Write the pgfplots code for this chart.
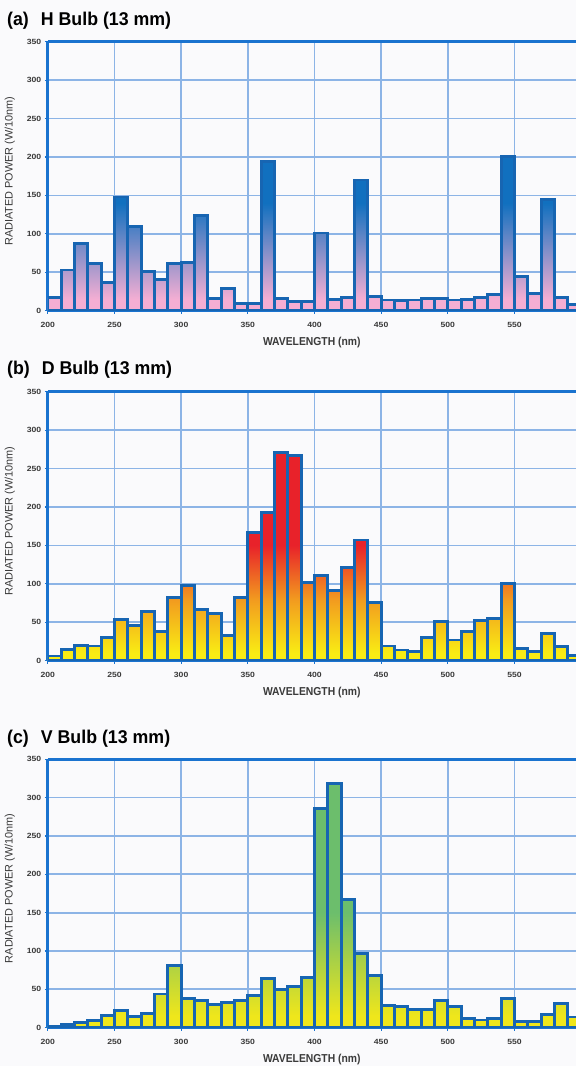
\documentclass[border=0pt]{standalone}
\usepackage{fontspec}
\setmainfont{Liberation Sans}
\newfontfamily\titlefont[FakeStretch=0.96]{Liberation Sans}
\newfontfamily\labelfont[FakeStretch=0.9]{Liberation Sans}
\newfontfamily\tickfont[FakeStretch=1.15]{Liberation Sans}
\usepackage{pgfplots}
\usepackage{pgfplotstable}
\pgfplotsset{compat=1.18}

\definecolor{bgcol}{HTML}{FAFAFC}
\definecolor{gridblue}{HTML}{8CB4E6}
\definecolor{axisblue}{HTML}{1A73CF}
\definecolor{barline}{HTML}{1765B2}
\definecolor{tickgray}{HTML}{3A3A3A}
\definecolor{hpink}{HTML}{F4AED3}
\definecolor{hblue}{HTML}{1170BF}
\definecolor{dyellow}{HTML}{F9EC14}
\definecolor{dorange}{HTML}{F29A1F}
\definecolor{dred}{HTML}{E8222A}
\definecolor{vyellow}{HTML}{EFE61B}
\definecolor{vgreen}{HTML}{6CBE6C}

% gradients follow absolute height: path box maps to 25bp..75bp
\pgfdeclareverticalshading{shadeH}{100bp}{color(0bp)=(hpink); color(28.7bp)=(hpink); color(59.8bp)=(hblue); color(100bp)=(hblue)}
\pgfdeclareverticalshading{shadeD}{100bp}{color(0bp)=(dyellow); color(26.8bp)=(dyellow); color(39.8bp)=(dorange); color(52.7bp)=(dred); color(100bp)=(dred)}
\pgfdeclareverticalshading{shadeV}{100bp}{color(0bp)=(vyellow); color(27.4bp)=(vyellow); color(48.6bp)=(vgreen); color(100bp)=(vgreen)}

% wavelength (nm), radiated power (W/10nm); last row closes the 590 bin
\pgfplotstableread{
x y
200 17
210 53
220 87
230 61
240 37
250 148
260 110
270 51
280 41
290 61
300 63
310 124
320 16
330 29
340 9
350 9
360 194
370 16
380 12
390 12
400 101
410 15
420 17
430 170
440 18
450 14
460 13
470 14
480 16
490 16
500 14
510 15
520 17
530 21
540 201
550 44
560 22
570 145
580 17
590 8
600 8
}\dataH

\pgfplotstableread{
x y
200 6
210 15
220 20
230 19
240 30
250 54
260 46
270 64
280 38
290 82
300 98
310 67
320 61
330 33
340 82
350 167
360 193
370 271
380 267
390 102
400 111
410 91
420 121
430 157
440 76
450 19
460 14
470 12
480 30
490 51
500 27
510 38
520 52
530 55
540 100
550 16
560 12
570 35
580 18
590 7
600 7
}\dataD

\pgfplotstableread{
x y
200 2
210 4
220 7
230 9
240 16
250 22
260 15
270 18
280 44
290 81
300 38
310 35
320 30
330 33
340 35
350 42
360 64
370 50
380 54
390 65
400 286
410 318
420 167
430 97
440 68
450 29
460 28
470 24
480 24
490 35
500 28
510 12
520 10
530 12
540 38
550 8
560 8
570 17
580 32
590 14
600 14
}\dataV

\pgfplotsset{
  bulb/.style={
    scale only axis, width=528pt,
    xmin=200, xmax=596, ymin=0, ymax=350,
    xtick={200,250,...,550}, ytick={0,50,...,350},
    grid=major, major grid style={gridblue, line width=1.8pt},
    axis x line*=box, axis y line*=left,
    axis line style={axisblue, line width=3pt},
    every inner x axis line/.append style={-},
    every inner y axis line/.append style={-},
    every outer x axis line/.append style={-},
    xtick pos=lower, ytick pos=left,
    tick align=outside, major tick length=3pt,
    tick style={axisblue, line width=1.2pt},
    /pgf/number format/assume math mode=true,
    ticklabel style={font=\tickfont\bfseries\fontsize{7.5}{9}\selectfont, text=tickgray},
    xticklabel style={yshift=-5pt},
    xlabel={WAVELENGTH (nm)}, ylabel={RADIATED POWER (W/10nm)},
    xlabel style={at={(axis description cs:0.5,-0.119)}, anchor=center,
      font=\labelfont\bfseries\fontsize{11.5}{13}\selectfont, text=tickgray},
    ylabel style={at={(axis description cs:-0.072,0.519)}, anchor=center,
      font=\fontsize{10.9}{13}\selectfont, text=tickgray},
  },
  bars/.style={ybar interval, draw=barline, line width=2.8pt, fill=none},
}

\newcommand{\paneltitle}[2]{{\titlefont\bfseries\fontsize{18.5}{22}\selectfont #1\hspace{12pt}#2}}

\begin{document}
\begin{tikzpicture}
\useasboundingbox (0,0) rectangle (576pt,1066pt);
\fill[bgcol] (0,0) rectangle (576pt,1066pt);

\node[anchor=base west, inner sep=0] at (7pt,1040pt) {\paneltitle{(a)}{H Bulb (13 mm)}};
\node[anchor=base west, inner sep=0] at (7pt,691pt) {\paneltitle{(b)}{D Bulb (13 mm)}};
\node[anchor=base west, inner sep=0] at (7pt,322.5pt) {\paneltitle{(c)}{V Bulb (13 mm)}};

\begin{axis}[bulb, height=269pt, at={(47.8pt,755.3pt)}, anchor=south west]
\addplot[draw=none, shade, shading=shadeH, const plot mark left] table[x=x, y=y] {\dataH} \closedcycle;
\addplot[bars] table[x=x, y=y] {\dataH};
\end{axis}

\begin{axis}[bulb, height=269pt, at={(47.8pt,405.3pt)}, anchor=south west]
\addplot[draw=none, shade, shading=shadeD, const plot mark left] table[x=x, y=y] {\dataD} \closedcycle;
\addplot[bars] table[x=x, y=y] {\dataD};
\end{axis}

\begin{axis}[bulb, height=268.5pt, at={(47.8pt,38.3pt)}, anchor=south west]
\addplot[draw=none, shade, shading=shadeV, const plot mark left] table[x=x, y=y] {\dataV} \closedcycle;
\addplot[bars] table[x=x, y=y] {\dataV};
\end{axis}
\end{tikzpicture}
\end{document}
